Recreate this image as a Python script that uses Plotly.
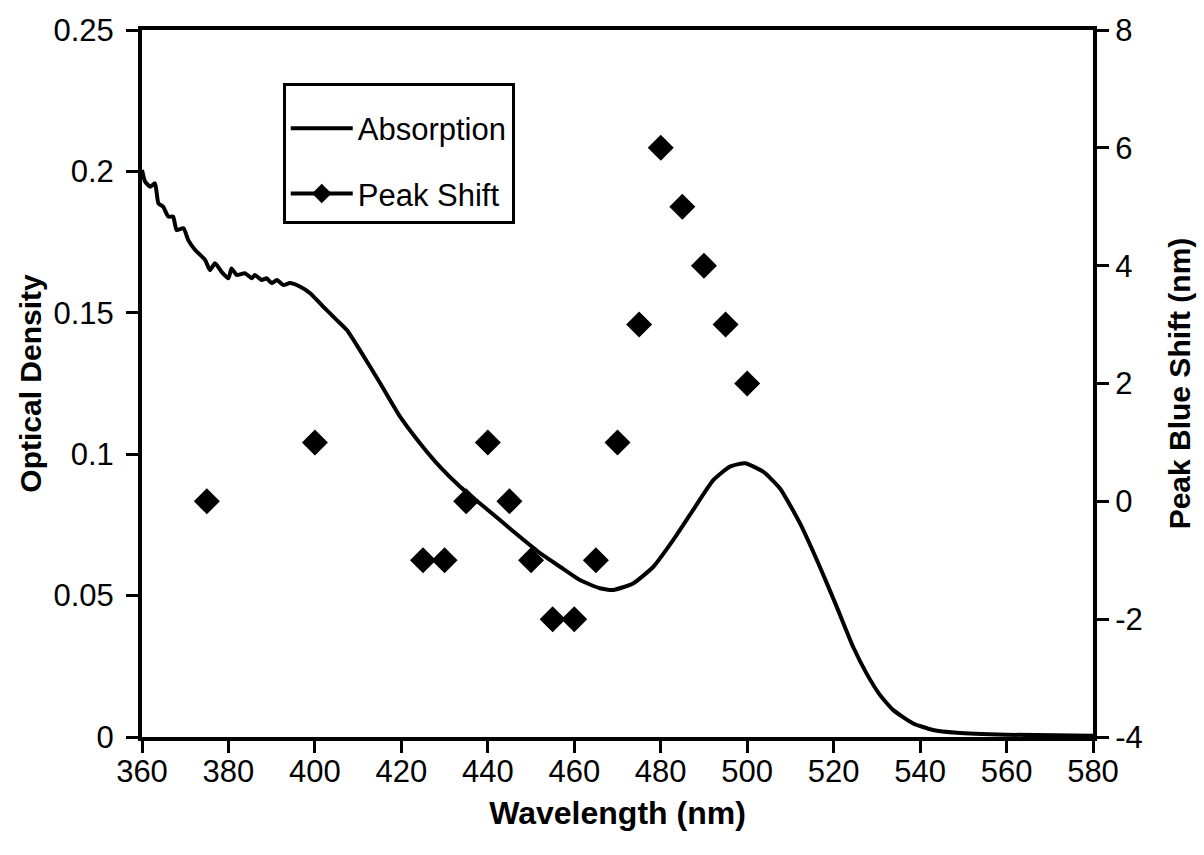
import plotly.graph_objects as go

# Absorption spectrum
abs_wl = [360.0, 360.7, 361.9, 363.0, 363.8, 364.9, 366.1, 367.2, 368.0, 369.6, 370.7,
          372.3, 374.6, 375.7, 376.9, 378.4, 380.0, 380.7, 381.9, 383.8, 385.4, 386.1,
          387.7, 388.8, 390.0, 391.2, 392.7, 394.2, 396.5, 398.9, 401.9, 405.0, 407.4,
          410.4, 415.1, 419.7, 424.3, 428.9, 433.6, 438.2, 442.8, 447.4, 452.1, 456.7,
          461.3, 465.9, 469.0, 473.6, 478.3, 482.9, 487.5, 492.2, 496.0, 499.5, 503.7,
          507.6, 512.2, 516.8, 520.7, 524.5, 527.6, 530.7, 533.8, 538.4, 543.0, 548.5,
          560.0, 580.0]
abs_od = [0.2005, 0.1964, 0.1946, 0.1958, 0.1887, 0.1875, 0.1840, 0.1840, 0.1793, 0.1799, 0.1757,
          0.1722, 0.1687, 0.1651, 0.1675, 0.1645, 0.1622, 0.1657, 0.1634, 0.1640, 0.1622, 0.1634,
          0.1616, 0.1622, 0.1605, 0.1616, 0.1598, 0.1605, 0.1593, 0.1569, 0.1522, 0.1475, 0.1439,
          0.1368, 0.1251, 0.1133, 0.1039, 0.0956, 0.0885, 0.0826, 0.0767, 0.0708, 0.0650, 0.0602,
          0.0555, 0.0526, 0.0520, 0.0543, 0.0602, 0.0697, 0.0803, 0.0909, 0.0956, 0.0968, 0.0938,
          0.0879, 0.0756, 0.0602, 0.0461, 0.0319, 0.0225, 0.0149, 0.0095, 0.0048, 0.0025, 0.0015,
          0.0008, 0.0004]

# Peak blue shift
shift_wl = [375, 400, 425, 430, 435, 440, 445, 450, 455, 460, 465, 470, 475, 480, 485, 490, 495, 500]
shift_nm = [0, 1, -1, -1, 0, 1, 0, -1, -2, -2, -1, 1, 3, 6, 5, 4, 3, 2]

x_ticks = list(range(360, 581, 20))
left_ticks = [0, 0.05, 0.1, 0.15, 0.2, 0.25]
left_labels = ["0", "0.05", "0.1", "0.15", "0.2", "0.25"]
right_ticks = [-4, -2, 0, 2, 4, 6, 8]
right_labels = ["-4", "-2", "0", "2", "4", "6", "8"]

FONT = "Liberation Sans, Arial, sans-serif"
TS = 31

fig = go.Figure()
fig.add_trace(go.Scatter(
    x=abs_wl, y=abs_od, mode="lines", name="Absorption",
    line=dict(color="black", width=4, shape="spline", smoothing=0.5),
    legendgroup="a", yaxis="y"))
fig.add_trace(go.Scatter(
    x=shift_wl, y=shift_nm, mode="markers", name="Peak Shift", showlegend=False,
    marker=dict(symbol="diamond", size=20, color="black"), yaxis="y2"))
# legend entry drawn as line + diamond
fig.add_trace(go.Scatter(
    x=[None], y=[None], mode="lines+markers", name="Peak Shift",
    line=dict(color="black", width=4),
    marker=dict(symbol="diamond", size=15, color="black"),
    legendgroup="b", yaxis="y2"))

axis_common = dict(showgrid=False, zeroline=False, showline=True, linecolor="black",
                   linewidth=4, ticks="outside", ticklen=12, tickwidth=3, tickcolor="black",
                   tickfont=dict(family=FONT, size=TS, color="black"))

fig.update_layout(
    width=1204, height=855,
    margin=dict(l=142, r=111, t=30, b=118),
    paper_bgcolor="white", plot_bgcolor="white",
    showlegend=True,
    xaxis=dict(range=[360, 580], tickvals=x_ticks, mirror=True, ticklabelstandoff=-8,
               title=dict(text="<b>Wavelength (nm)</b>", font=dict(family=FONT, size=32, color="black"),
                          standoff=14),
               **axis_common),
    yaxis=dict(range=[0, 0.25], tickvals=left_ticks, ticktext=left_labels, ticklabelstandoff=6,
               title=dict(text="<b>Optical Density</b>", font=dict(family=FONT, size=30, color="black"),
                          standoff=4),
               **axis_common),
    yaxis2=dict(range=[-4, 8], tickvals=right_ticks, ticktext=right_labels, overlaying="y", side="right",
                title=dict(text="<b>Peak Blue Shift (nm)</b>", font=dict(family=FONT, size=30, color="black"),
                           standoff=28),
                **axis_common),
    legend=dict(x=0.148, y=0.925, xanchor="left", yanchor="top",
                bordercolor="black", borderwidth=3, bgcolor="white",
                font=dict(family=FONT, size=TS, color="black"),
                title=dict(text=" ", font=dict(size=12)),
                tracegroupgap=22, traceorder="grouped", itemwidth=62),
)

fig.write_html("out.html")
